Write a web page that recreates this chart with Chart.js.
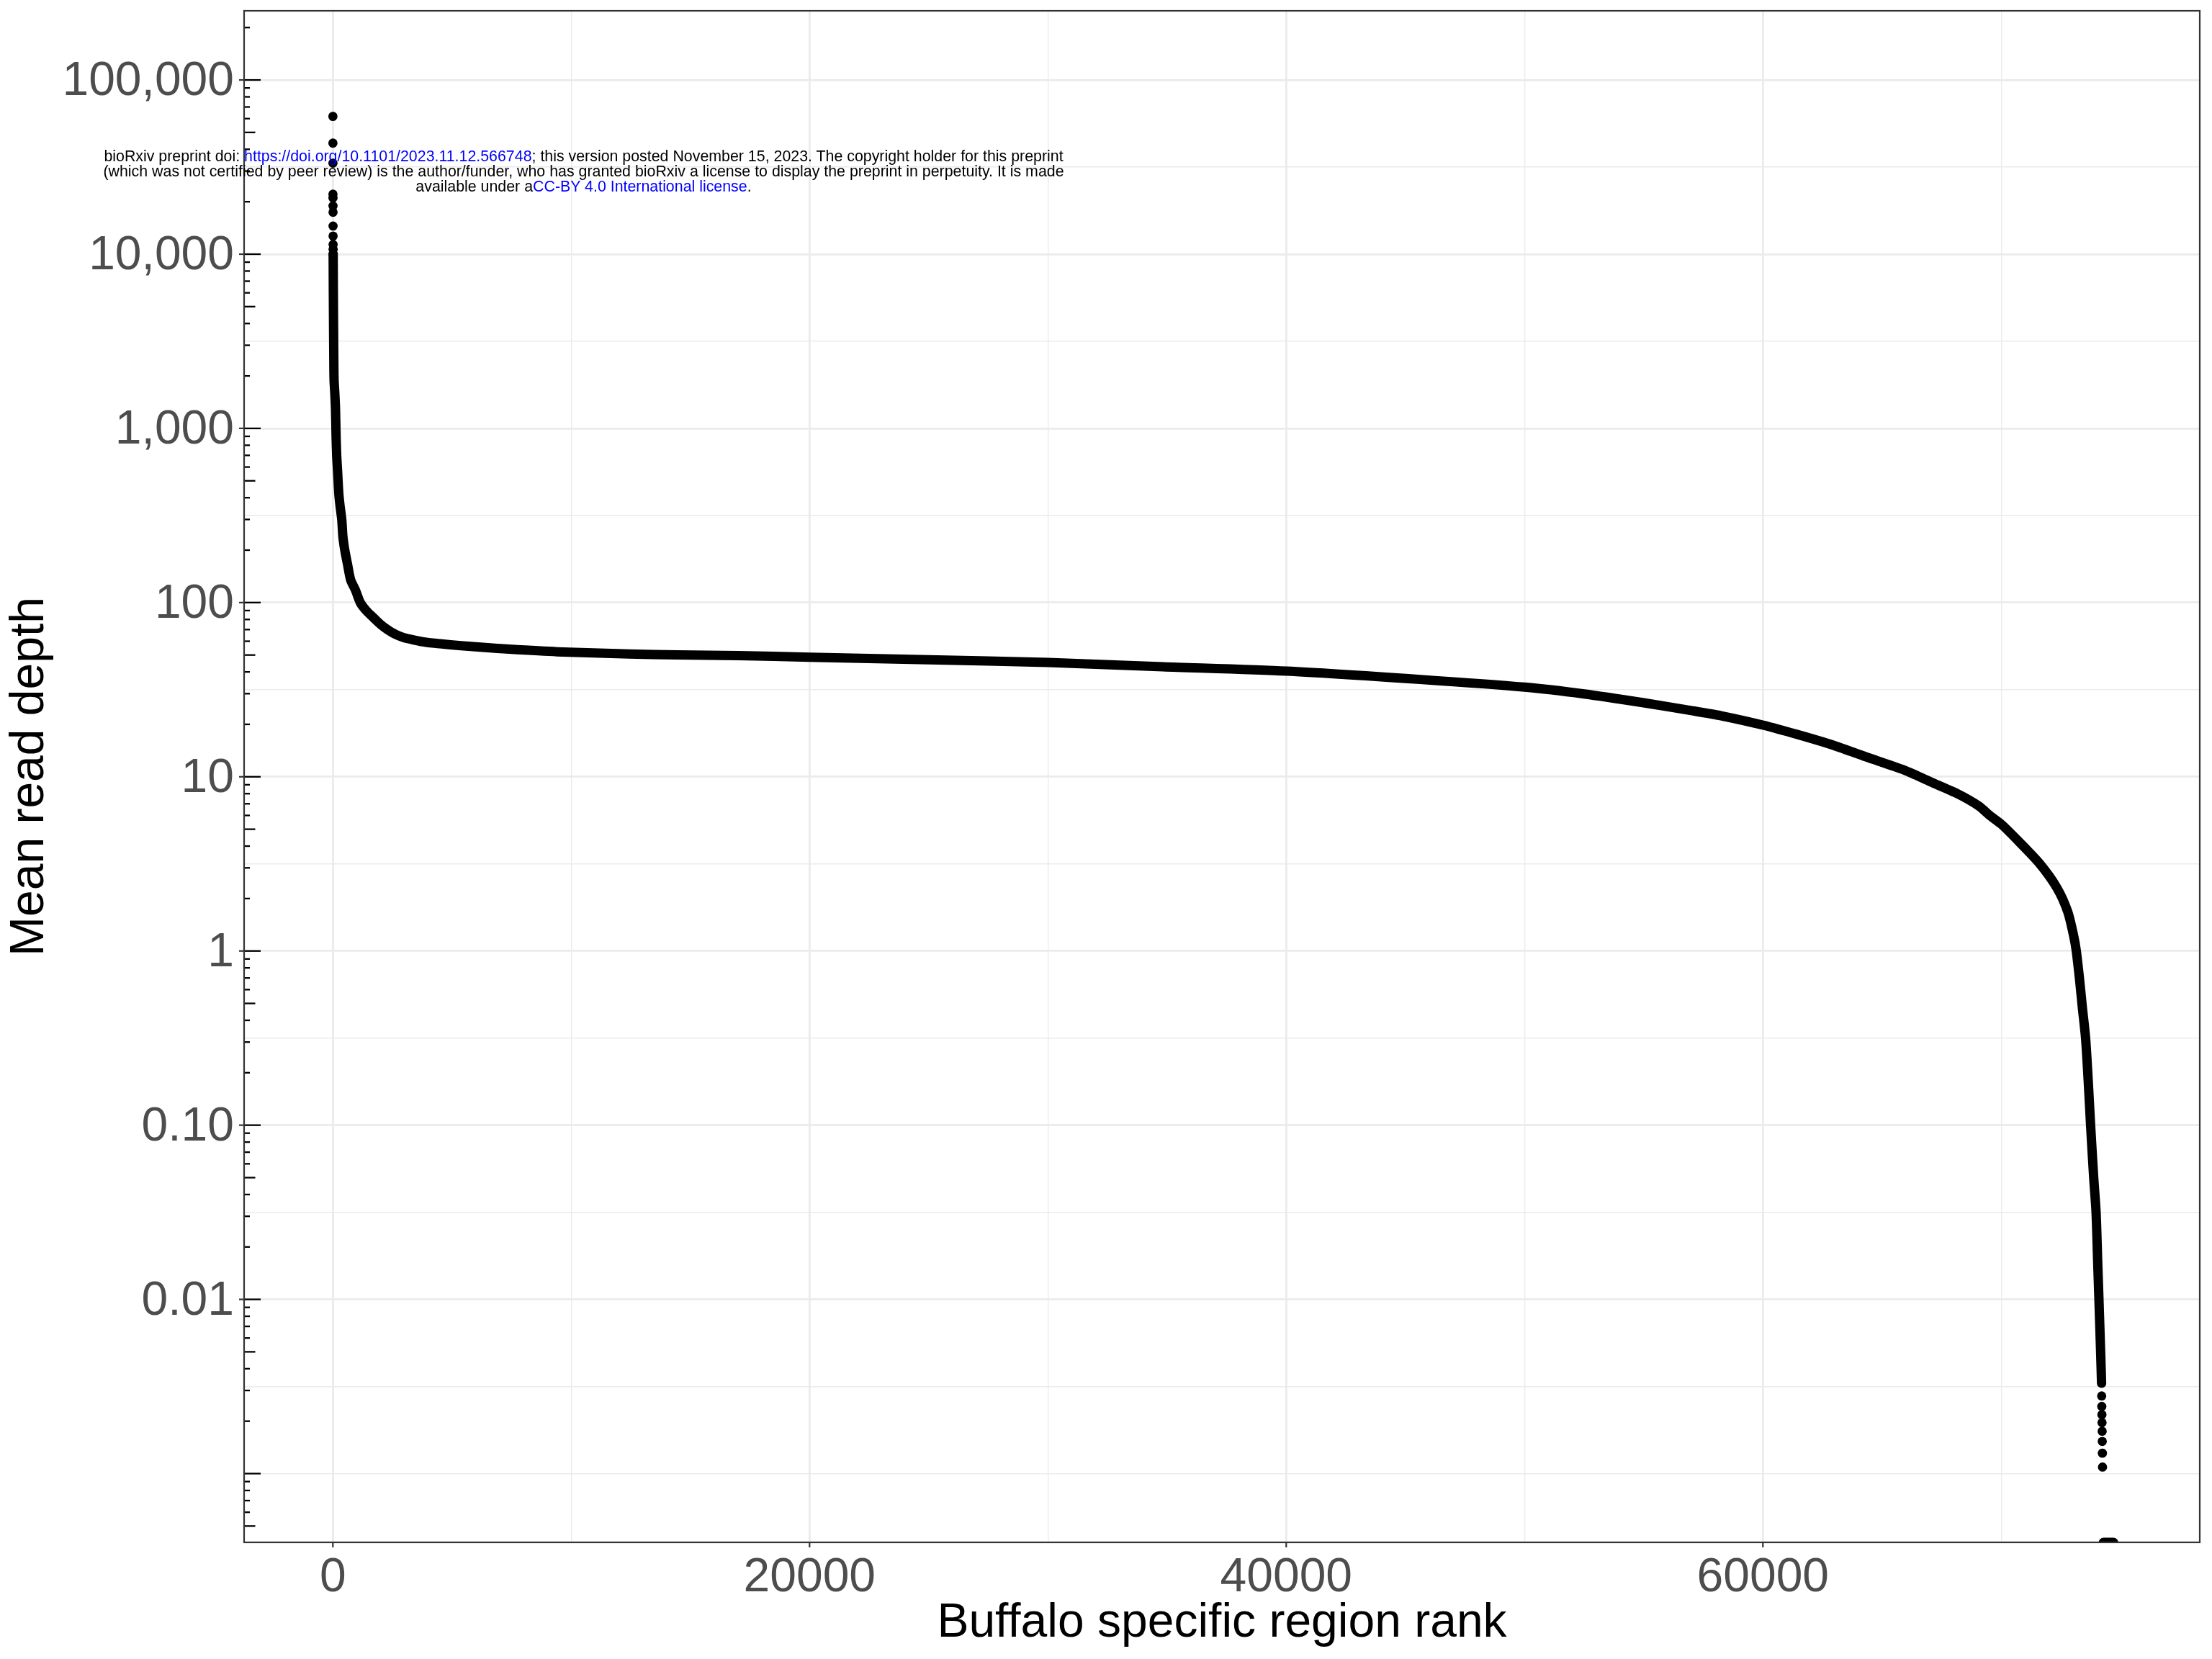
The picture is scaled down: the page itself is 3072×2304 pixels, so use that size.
<!DOCTYPE html>
<html>
<head>
<meta charset="utf-8">
<script src="https://cdn.jsdelivr.net/npm/chart.js"></script>
<style>
html, body { margin: 0; padding: 0; background: #ffffff; }
#wrap { position: relative; width: 3072px; height: 2304px; }
#c { position: absolute; left: 0; top: 0; }
#wm { position: absolute; left: 0; top: 0; width: 1621px; text-align: center;
      font-family: 'Liberation Sans', Arial, Helvetica, sans-serif; color: #000;
      white-space: nowrap; line-height: 21px; font-size: 20px; }
#wm .lnk { color: #0000ff; }
</style>
</head>
<body>
<div id="wrap">
<canvas id="c" width="3072" height="2304"></canvas>
<div id="wm">
<div><span>bioRxiv preprint doi: <span class="lnk">https://doi.org/10.1101/2023.11.12.566748</span>; this version posted November 15, 2023. The copyright holder for this preprint</span></div>
<div><span>(which was not certified by peer review) is the author/funder, who has granted bioRxiv a license to display the preprint in perpetuity. It is made</span></div>
<div><span>available under a<span class="lnk">CC-BY 4.0 International license</span>.</span></div>
</div>
</div>
<script>
// ---------------- data ----------------
// highest ranked regions, drawn as separate visible points
const topRanks  = [1, 2, 3, 4, 5, 6, 7, 8, 9, 10, 11, 12];
const topDepths = [61800, 43400, 33300, 22100, 21000, 18900, 17400, 14500, 12700, 11360, 10660, 10000];

// dense band of points (rank -> mean read depth)
const bandRanks  = [13, 14, 20, 28, 38, 50, 80, 110, 135, 160, 200, 250, 300, 373, 420, 500, 614, 746, 947, 1149,
                    1400, 1702, 2000, 2258, 2600, 2962, 3400, 3870, 4500, 5381, 6400, 7397, 9412, 12435, 14450,
                    17000, 20000, 25000, 30000, 34826, 40000, 45620, 50000, 52500, 55000, 57000, 58250, 60000,
                    61500, 63000, 64330, 65950, 67040, 68160, 69060, 69520, 70000, 70630, 71590, 72340, 72790,
                    73040, 73150, 73300, 73400, 73540, 73650, 73750, 73880, 73980, 74050, 74100, 74175, 74210];
const bandDepths = [10000, 9000, 6000, 4000, 2600, 1900, 1600, 1300, 900, 700, 560, 420, 360, 300, 240, 200, 166, 135, 118, 100,
                    90, 82, 75, 70.5, 66, 63, 61, 59.3, 58, 56.5, 55.2, 54, 52.2, 50.7, 50.1,
                    49.6, 48.6, 47.0, 45.3, 42.8, 40.4, 36.2, 32.7, 29.9, 26.6, 24.0, 22.4, 19.8,
                    17.4, 15.1, 13.0, 10.9, 9.35, 8.0, 6.8, 6.0, 5.35, 4.4, 3.2, 2.3, 1.68,
                    1.22, 1.0, 0.66, 0.48, 0.316, 0.18, 0.1, 0.05, 0.0316, 0.016, 0.01, 0.0048, 0.0033];

// lowest non-zero regions, visible as separate points
const tailRanks  = [74215, 74220, 74225, 74230, 74235, 74240, 74245, 74250];
const tailDepths = [0.00279, 0.00243, 0.00218, 0.00196, 0.00175, 0.00153, 0.00131, 0.00109];

// regions with zero depth (drawn at the panel edge, like -Inf on a log scale)
const zeroRanks = [74290, 74500, 74710];

// axes
const xTickValues = [0, 20000, 40000, 60000];
const xTickLabels = ['0', '20000', '40000', '60000'];
const xGridValues = [0, 10000, 20000, 30000, 40000, 50000, 60000, 70000];
const yTickValues = [0.01, 0.1, 1, 10, 100, 1000, 10000, 100000];
const yTickLabels = ['0.01', '0.10', '1', '10', '100', '1,000', '10,000', '100,000'];
const yGridExponents = [-3, -2.5, -2, -1.5, -1, -0.5, 0, 0.5, 1, 1.5, 2, 2.5, 3, 3.5, 4, 4.5, 5];
const X_MIN = -3725, X_MAX = 78330;
const Y_MIN = 0.000403, Y_MAX = 249500;

// ---------------- chart ----------------
const FONT = "'Liberation Sans', Arial, Helvetica, sans-serif";
const zip = (xs, ys) => xs.map((x, i) => ({ x: x, y: ys[i] }));
const sameLog = (a, b) => Math.abs(Math.log10(a) - Math.log10(b)) < 1e-6;
const noPad = s => { s.paddingTop = 0; s.paddingBottom = 0; s.paddingLeft = 0; s.paddingRight = 0; };

const framePlugin = {
  id: 'frame',
  beforeDraw(chart) {
    const c = chart.ctx;
    c.save(); c.fillStyle = '#ffffff'; c.fillRect(0, 0, chart.width, chart.height); c.restore();
  },
  afterDatasetsDraw(chart) {
    const { ctx, chartArea: a, scales: { x, y } } = chart;
    ctx.save();
    // log ticks inside the left edge
    ctx.strokeStyle = '#000000'; ctx.lineWidth = 2.3; ctx.lineCap = 'butt';
    for (let d = -4; d <= 5; d++) {
      for (let k = 1; k <= 9; k++) {
        const v = k * Math.pow(10, d);
        if (v < Y_MIN || v > Y_MAX) continue;
        const py = y.getPixelForValue(v);
        const len = k === 1 ? 23 : (k === 5 ? 15.5 : 8);
        ctx.beginPath(); ctx.moveTo(a.left, py); ctx.lineTo(a.left + len, py); ctx.stroke();
      }
    }
    // outer axis ticks
    ctx.strokeStyle = '#333333'; ctx.lineWidth = 2.2;
    yTickValues.forEach(v => {
      const py = y.getPixelForValue(v);
      ctx.beginPath(); ctx.moveTo(a.left - 7, py); ctx.lineTo(a.left, py); ctx.stroke();
    });
    xTickValues.forEach(v => {
      const px = x.getPixelForValue(v);
      ctx.beginPath(); ctx.moveTo(px, a.bottom); ctx.lineTo(px, a.bottom + 7); ctx.stroke();
    });
    // panel border
    ctx.strokeRect(a.left, a.top, a.right - a.left, a.bottom - a.top);
    ctx.restore();
  }
};

new Chart(document.getElementById('c'), {
  type: 'scatter',
  data: {
    datasets: [
      { data: zip(bandRanks, bandDepths), showLine: true, pointRadius: 0, borderColor: '#000000',
        borderWidth: 13, borderJoinStyle: 'round', borderCapStyle: 'round', tension: 0.25 },
      { data: zip(topRanks, topDepths), pointRadius: 6.4, backgroundColor: '#000000', borderWidth: 0 },
      { data: zip(tailRanks, tailDepths), pointRadius: 6.4, backgroundColor: '#000000', borderWidth: 0 },
      { data: zeroRanks.map(r => ({ x: r, y: Y_MIN })), showLine: true, pointRadius: 0, borderColor: '#000000',
        borderWidth: 13, borderCapStyle: 'round' }
    ]
  },
  options: {
    responsive: false, animation: false, events: [],
    layout: { padding: { top: 15, right: 17, bottom: 0, left: 0 } },
    plugins: { legend: { display: false }, tooltip: { enabled: false } },
    scales: {
      x: {
        type: 'linear', min: X_MIN, max: X_MAX,
        afterBuildTicks: s => { s.ticks = xGridValues.map(v => ({ value: v })); },
        afterFit: s => { s.height = 162; noPad(s); },
        border: { display: false },
        grid: { color: '#EBEBEB', drawTicks: false,
                lineWidth: c => (c.tick && xTickValues.includes(c.tick.value)) ? 2.8 : 1.4 },
        ticks: { autoSkip: false, maxRotation: 0, minRotation: 0, padding: 10, color: '#4D4D4D',
                 font: { family: FONT, size: 66 },
                 callback: v => { const i = xTickValues.indexOf(v); return i >= 0 ? xTickLabels[i] : ''; } },
        title: { display: true, text: 'Buffalo specific region rank', color: '#000000',
                 font: { family: FONT, size: 66 }, padding: { top: 0, bottom: 10 } }
      },
      y: {
        type: 'logarithmic', min: Y_MIN, max: Y_MAX,
        afterBuildTicks: s => { s.ticks = yGridExponents.map(e => ({ value: Math.pow(10, e) })); },
        afterFit: s => { s.width = 339; noPad(s); },
        border: { display: false },
        grid: { color: '#EBEBEB', drawTicks: false,
                lineWidth: c => (c.tick && yTickValues.some(t => sameLog(t, c.tick.value))) ? 2.8 : 1.4 },
        ticks: { autoSkip: false, padding: 14, labelOffset: 3, color: '#4D4D4D', font: { family: FONT, size: 66 },
                 callback: v => { const i = yTickValues.findIndex(t => sameLog(t, v)); return i >= 0 ? yTickLabels[i] : ''; } },
        title: { display: true, text: 'Mean read depth', color: '#000000',
                 font: { family: FONT, size: 66 }, padding: { top: 2, bottom: 0 } }
      }
    }
  },
  plugins: [framePlugin]
});

// ---------------- watermark text sizing ----------------
(function () {
  const wm = document.getElementById('wm');
  const first = wm.children[0].firstElementChild;
  const w = first.getBoundingClientRect().width;
  const S = 20 * 1333 / w;
  wm.style.fontSize = S.toFixed(2) + 'px';
  const L = 21;
  wm.style.lineHeight = L + 'px';
  const top = 224.6 - ((L - 1.117 * S) / 2 + 0.905 * S);
  wm.style.top = top.toFixed(1) + 'px';
})();
</script>
</body>
</html>
